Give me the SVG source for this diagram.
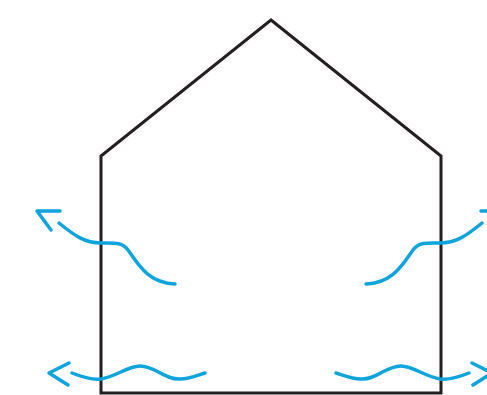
<svg xmlns="http://www.w3.org/2000/svg" width="487" height="395" viewBox="0 0 487 395">
<style>
.house{fill:none;stroke:#231f20;stroke-width:3;stroke-linejoin:miter}
.flow{fill:none;stroke:#0fa4dc;stroke-width:3.5;stroke-linecap:round;stroke-linejoin:round}
</style>
<rect width="487" height="395" fill="#ffffff"/>
<g id="house">
<path class="house" d="M271,20 L441,156 L441,393 L101,393 L101,156 Z"/>
</g>
<g id="connectors">
<path class="flow" d="M59,223 C75,236 85,243 101,243 C115,243 122,242 128,250 C138,264 148,283 175,284"/>
<path class="flow" d="M60,211 L37,211 L51,230"/>
<path class="flow" d="M482,223 C466,236 456,243 440,243 C426,243 419,242 413,250 C403,264 393,283 366,284"/>
<path class="flow" d="M481,211 L504,211 L490,230"/>
<path class="flow" d="M72,373 C82,377 92,380 101,379 C115,377 128,366 140,366 C155,366 165,380 180,379 C190,379 198,375 205,373"/>
<path class="flow" d="M69,363 L49,373 L68,385"/>
<path class="flow" d="M469,373 C459,377 449,380 440,379 C426,377 413,366 401,366 C386,366 376,380 361,379 C351,379 343,375 336,373"/>
<path class="flow" d="M472,363 L492,373 L473,385"/>
</g>
</svg>
